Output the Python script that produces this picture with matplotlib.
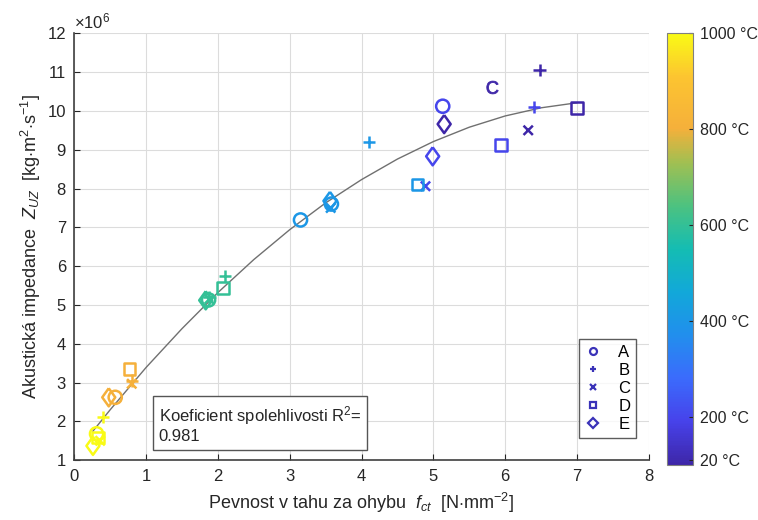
import matplotlib
matplotlib.use("Agg")
import matplotlib.pyplot as plt
from matplotlib.colors import LinearSegmentedColormap, Normalize
from matplotlib.cm import ScalarMappable

plt.rcParams['font.family'] = ['Liberation Sans', 'DejaVu Sans']
plt.rcParams['mathtext.fontset'] = 'custom'
plt.rcParams['mathtext.rm'] = 'Liberation Sans'
plt.rcParams['mathtext.it'] = 'Liberation Sans:italic'

# data (y in 10^6 kg.m^-2.s^-1, t in deg C)
a_x = [5.13, 3.15, 3.58, 1.87, 0.57, 0.31]
a_y = [10.12, 7.19, 7.60, 5.13, 2.62, 1.68]
a_t = [200, 400, 400, 600, 800, 1000]
a_odd_x = [5.81]   # the point drawn as "C" in the original
a_odd_y = [10.61]
a_odd_t = [20]

b_x = [6.48, 6.40, 4.10, 2.10, 1.88, 0.80, 0.40]
b_y = [11.05, 10.10, 9.20, 5.75, 5.20, 3.05, 2.12]
b_t = [20, 200, 400, 600, 600, 800, 1000]

c_x = [6.32, 4.89, 3.57, 1.88, 0.80, 0.36]
c_y = [9.50, 8.06, 7.50, 5.15, 2.97, 1.50]
c_t = [20, 200, 400, 600, 800, 1000]

d_x = [7.00, 5.94, 4.78, 2.07, 0.77, 0.33]
d_y = [10.07, 9.12, 8.10, 5.43, 3.35, 1.58]
d_t = [20, 200, 400, 600, 800, 1000]

e_x = [5.15, 4.99, 3.56, 1.83, 0.48, 0.26]
e_y = [9.66, 8.83, 7.68, 5.12, 2.62, 1.37]
e_t = [20, 200, 400, 600, 800, 1000]

# trend line
fit_x = [0.26, 0.5, 1, 1.5, 2, 2.5, 3, 3.5, 4, 4.5, 5, 5.5, 6, 6.5, 7]
fit_y = [1.75, 2.30, 3.39, 4.39, 5.32, 6.17, 6.94, 7.63, 8.23, 8.76, 9.21, 9.58, 9.87, 10.08, 10.21]

cb_ticks = [110, 200, 400, 600, 800, 1000]
cb_labels = ['20 °C', '200 °C', '400 °C', '600 °C', '800 °C', '1000 °C']
series_names = ['A', 'B', 'C', 'D', 'E']

# parula-like colormap
parula = LinearSegmentedColormap.from_list('parula', [
    (0.00, (0.2422, 0.1504, 0.6603)),
    (0.10, (0.2780, 0.2600, 0.9200)),
    (0.20, (0.2300, 0.4200, 0.9900)),
    (0.30, (0.1300, 0.5600, 0.9300)),
    (0.40, (0.0700, 0.6600, 0.8500)),
    (0.50, (0.0800, 0.7400, 0.7000)),
    (0.60, (0.3000, 0.7600, 0.5000)),
    (0.70, (0.6300, 0.7500, 0.3200)),
    (0.78, (0.9600, 0.6900, 0.2300)),
    (0.90, (0.9900, 0.7700, 0.1900)),
    (1.00, (0.9769, 0.9839, 0.0805)),
])
norm = Normalize(100, 1000)

# diamond a bit wider than matplotlib's thin one
diamond = [(0, 1), (0.72, 0), (0, -1), (-0.72, 0), (0, 1)]

fig = plt.figure(figsize=(7.58, 5.2), dpi=100)
ax = fig.add_axes([0.098, 0.115, 0.758, 0.821])

ax.plot(fit_x, fit_y, color='#707070', lw=1.0, zorder=2)

ms = dict(zorder=3, linewidths=1.8)
ax.scatter(a_x, a_y, s=90, marker='o', facecolors='none', edgecolors=parula(norm(a_t)), **ms)
ax.scatter(a_odd_x, a_odd_y, s=85, marker='$\\mathrm{C}$', c=parula(norm(a_odd_t)), zorder=3, linewidths=0.6)
ax.scatter(b_x, b_y, s=80, marker='+', c=parula(norm(b_t)), **ms)
ax.scatter(c_x, c_y, s=45, marker='x', c=parula(norm(c_t)), **ms)
ax.scatter(d_x, d_y, s=70, marker='s', facecolors='none', edgecolors=parula(norm(d_t)), **ms)
ax.scatter(e_x, e_y, s=170, marker=diamond, facecolors='none', edgecolors=parula(norm(e_t)), **ms)

# legend
leg_col = '#3a32b8'
handles = []
for m, name in zip(['o', '+', 'x', 's', 'D'], series_names):
    h, = ax.plot([], [], ls='none', marker=m, ms=5, mfc='none',
                 mec=leg_col, mew=1.6, label=name)
    handles.append(h)
leg = ax.legend(handles=handles, loc='lower right', bbox_to_anchor=(0.978, 0.052),
                fontsize=12, frameon=True, fancybox=False, handlelength=1.0,
                handletextpad=1.0, borderpad=0.35, labelspacing=0.18, borderaxespad=0)
leg.get_frame().set_edgecolor('#333333')
leg.get_frame().set_linewidth(1.0)

# R^2 box
ax.text(0.147, 0.085, 'Koeficient spolehlivosti R$^2$=\n0.981', transform=ax.transAxes,
        fontsize=12, color='#262626', va='center', ha='left', linespacing=1.15,
        bbox=dict(boxstyle='square,pad=0.35', fc='white', ec='#555555', lw=1.0))

ax.set_xlim(0, 8)
ax.set_ylim(1, 12)
ax.set_xticks(range(0, 9))
ax.set_yticks(range(1, 13))
ax.grid(True, color='#dcdcdc', lw=0.8)
ax.set_axisbelow(True)
for s in ['top', 'right']:
    ax.spines[s].set_visible(False)
for s in ['left', 'bottom']:
    ax.spines[s].set_color('#404040')
    ax.spines[s].set_linewidth(1.2)
ax.tick_params(direction='in', length=4, labelsize=12, colors='#262626', pad=6)

ax.text(0.0, 1.005, '$\\times$10$^6$', transform=ax.transAxes, fontsize=12,
        color='#262626', ha='left', va='bottom')

ax.set_xlabel('Pevnost v tahu za ohybu  $f_{ct}$  [N$\\cdot$mm$^{-2}$]', fontsize=13,
              color='#262626', labelpad=5)
ax.set_ylabel('Akustická impedance  $Z_{UZ}$  [kg$\\cdot$m$^2$$\\cdot$s$^{-1}$]', fontsize=13,
              color='#262626', labelpad=3)

cax = fig.add_axes([0.880, 0.106, 0.034, 0.831])
sm = ScalarMappable(norm=norm, cmap=parula)
cb = fig.colorbar(sm, cax=cax, ticks=cb_ticks)
cb.set_ticklabels(cb_labels)
cb.outline.set_edgecolor('#808080')
cb.outline.set_linewidth(0.8)
cax.tick_params(direction='in', length=3, labelsize=11.5, colors='#262626', pad=5)

fig.savefig('out.png', dpi=100)
